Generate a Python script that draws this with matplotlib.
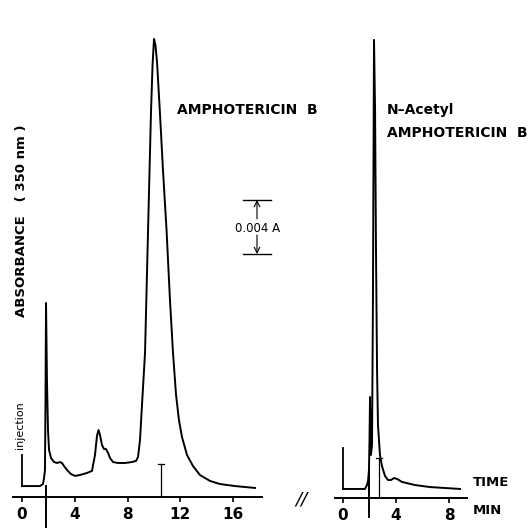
import matplotlib.pyplot as plt

# chromatograms: time in min, absorbance above the time axis in mAU
amb_time = [0.0, 0.61, 1.36, 1.59, 1.67, 1.74, 1.78, 1.82, 1.89, 1.97, 2.05, 2.20, 2.42,
            2.65, 2.88, 3.03, 3.18, 3.41, 3.71, 4.02, 4.39, 4.92, 5.30, 5.53, 5.68, 5.80,
            5.91, 6.06, 6.21, 6.36, 6.52, 6.67, 6.89, 7.27, 7.80, 8.33, 8.64, 8.79, 8.94,
            9.09, 9.32, 9.55, 9.77, 9.89, 10.0, 10.11, 10.23, 10.45, 10.68, 10.95, 11.21,
            11.44, 11.67, 11.89, 12.12, 12.5, 12.95, 13.48, 14.24, 15.0, 16.14, 17.65]
amb_abs = [0.81, 0.81, 0.81, 0.96, 1.41, 2.0, 7.19, 14.37, 8.67, 4.96, 3.48, 2.89, 2.59,
           2.52, 2.59, 2.52, 2.30, 2.0, 1.70, 1.56, 1.63, 1.78, 1.93, 3.11, 4.52, 4.96,
           4.59, 3.85, 3.56, 3.56, 3.26, 2.89, 2.59, 2.52, 2.52, 2.59, 2.67, 2.96, 4.22,
           6.81, 10.67, 19.78, 28.44, 32.0, 33.93, 33.48, 32.22, 28.44, 24.22, 19.78, 14.59,
           10.67, 7.56, 5.70, 4.44, 3.11, 2.30, 1.63, 1.19, 0.96, 0.81, 0.67]

acetyl_time = [0.0, 0.91, 1.66, 1.81, 1.89, 1.96, 2.0, 2.04, 2.08, 2.11, 2.19, 2.26, 2.34,
               2.42, 2.49, 2.57, 2.64, 2.79, 2.94, 3.17, 3.40, 3.62, 3.85, 4.08, 4.45,
               5.43, 6.57, 7.70, 8.83]
acetyl_abs = [0.67, 0.67, 0.67, 0.96, 1.26, 2.07, 4.30, 7.48, 5.04, 3.19, 3.93, 14.67, 33.93,
              28.74, 18.37, 9.48, 5.41, 3.19, 2.37, 1.63, 1.33, 1.33, 1.48, 1.41, 1.19,
              0.96, 0.81, 0.74, 0.67]

amb_ticks = [0, 4, 8, 12, 16]
acetyl_ticks = [0, 4, 8]

W, H = 529, 528


def px(x, y):
    return x / W, 1 - y / H


plt.rcParams['font.family'] = 'DejaVu Sans'
fig = plt.figure(figsize=(W / 100, H / 100), dpi=100)

ax1 = fig.add_axes([13 / W, 31 / H, 249 / W, 467 / H])
ax2 = fig.add_axes([335 / W, 30 / H, 132 / W, 468 / H])
ax1.set_xlim(-9 / 13.2, 240 / 13.2)
ax2.set_xlim(-8 / 13.25, 124 / 13.25)
ax1.set_ylim(0, 467 / 13.5)
ax2.set_ylim(0, 468 / 13.5)

for ax, ticks in [(ax1, amb_ticks), (ax2, acetyl_ticks)]:
    for s in ['top', 'right', 'left']:
        ax.spines[s].set_visible(False)
    ax.spines['bottom'].set_linewidth(1.4)
    ax.set_yticks([])
    ax.set_xticks(ticks)
    ax.tick_params(axis='x', direction='out', length=3.5, width=1.2, pad=4, labelsize=11)
    for lab in ax.get_xticklabels():
        lab.set_fontweight('bold')

# traces
ax1.plot(amb_time, amb_abs, color='black', lw=1.4, solid_joinstyle='round')
ax2.plot(acetyl_time, acetyl_abs, color='black', lw=1.4, solid_joinstyle='round')

# injection marks, solvent front lines and collection markers
ax1.plot([0, 0], [0.81, 3.11], color='black', lw=1.3)
ax2.plot([0, 0], [0.67, 3.70], color='black', lw=1.3)
ax1.plot([1.82, 1.82], [-2.22, 0.81], color='black', lw=1.4, clip_on=False)
ax2.plot([1.96, 1.96], [-1.41, 2.07], color='black', lw=1.4, clip_on=False)
ax1.plot([10.53, 10.53], [0, 2.44], color='black', lw=0.9)
ax1.plot([10.3, 10.76], [2.44, 2.44], color='black', lw=0.9)
ax2.plot([2.75, 2.75], [0, 2.96], color='black', lw=0.9)
ax2.plot([2.52, 2.98], [2.96, 2.96], color='black', lw=0.9)

# 0.004 A scale bar
sx = (257 - 22) / 13.2
top, bot = (497 - 200) / 13.5, (497 - 254) / 13.5
hw = 14 / 13.2
ax1.plot([sx - hw, sx + hw], [top, top], color='black', lw=1.0, clip_on=False)
ax1.plot([sx - hw, sx + hw], [bot, bot], color='black', lw=1.0, clip_on=False)
mid = (top + bot) / 2
ax1.annotate('', xy=(sx, top), xytext=(sx, mid + 0.6), annotation_clip=False,
             arrowprops=dict(arrowstyle='->', lw=0.8, color='black', shrinkA=0, shrinkB=0))
ax1.annotate('', xy=(sx, bot), xytext=(sx, mid - 0.6), annotation_clip=False,
             arrowprops=dict(arrowstyle='->', lw=0.8, color='black', shrinkA=0, shrinkB=0))
fig.text(*px(257.5, 229), '0.004 A', ha='center', va='center', fontsize=8.5)

# labels
fig.text(*px(177, 110), 'AMPHOTERICIN  B', ha='left', va='center', fontsize=10, fontweight='bold')
fig.text(*px(387, 110), 'N–Acetyl', ha='left', va='center', fontsize=10, fontweight='bold')
fig.text(*px(387, 133), 'AMPHOTERICIN  B', ha='left', va='center', fontsize=10, fontweight='bold')
fig.text(*px(22, 221), 'ABSORBANCE   ( 350 nm )', ha='center', va='center', rotation=90,
         fontsize=9.5, fontweight='bold')
fig.text(*px(20, 425), 'injection', ha='center', va='center', rotation=90, fontsize=8)
fig.text(*px(473, 483), 'TIME', ha='left', va='center', fontsize=9.5, fontweight='bold')
fig.text(*px(473, 511), 'MIN', ha='left', va='center', fontsize=9.5, fontweight='bold')
fig.text(*px(301, 499), '//', ha='center', va='center', fontsize=13, fontstyle='italic')

fig.savefig('out.png', dpi=100)
